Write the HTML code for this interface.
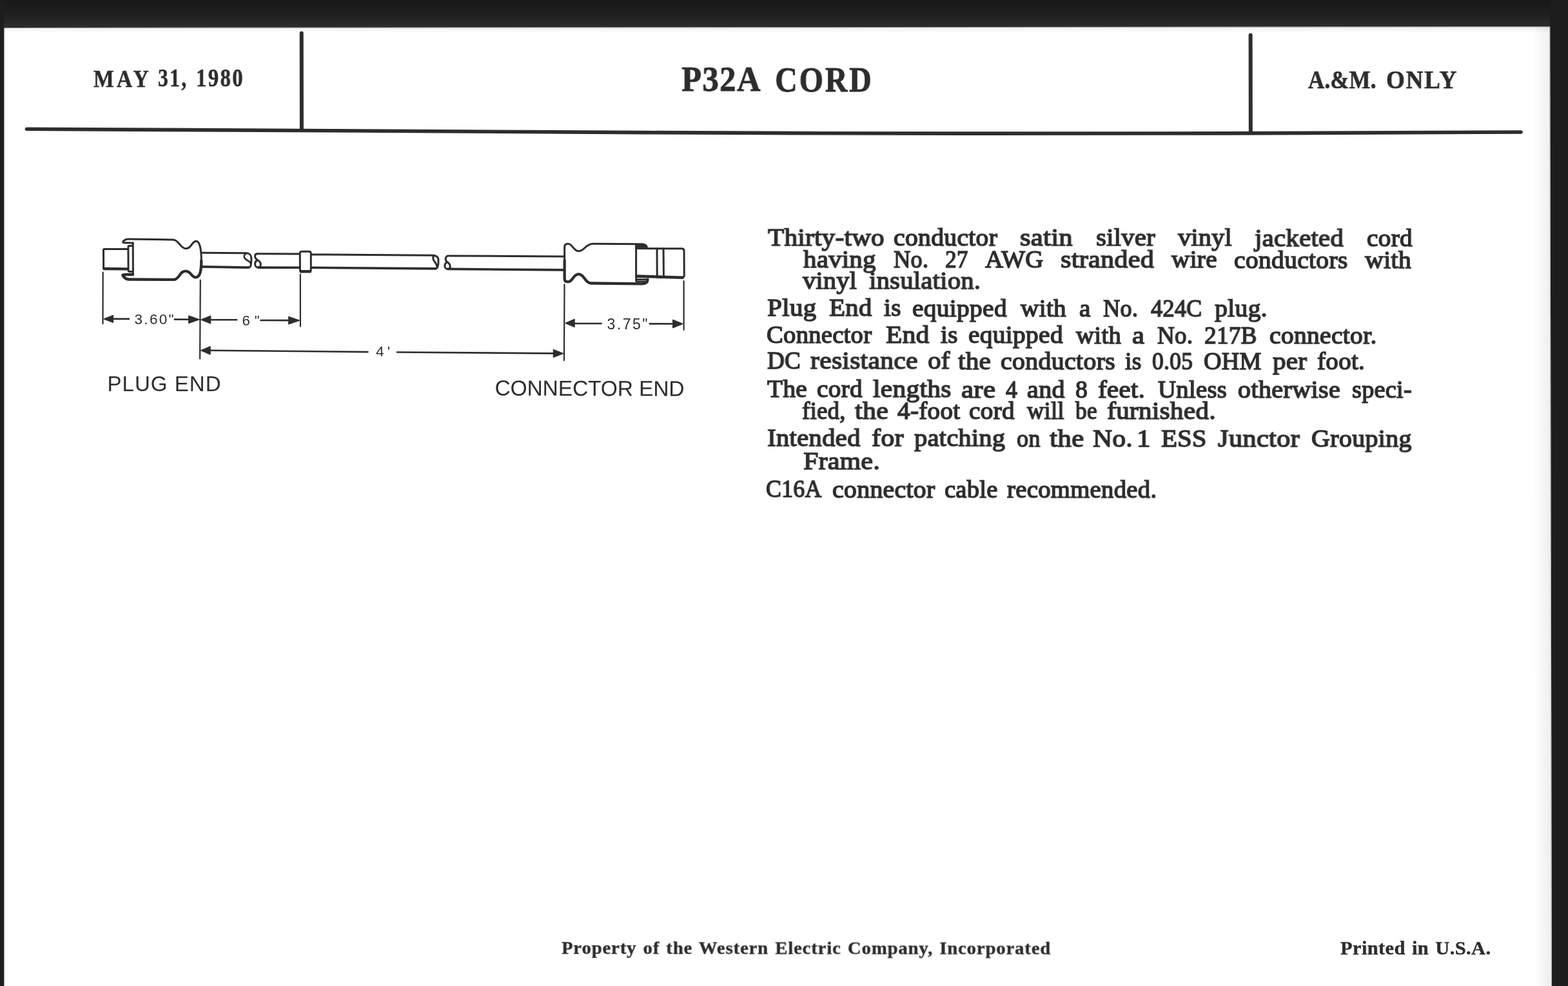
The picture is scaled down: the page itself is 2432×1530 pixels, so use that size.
<!DOCTYPE html>
<html><head><meta charset="utf-8"><title>P32A CORD</title>
<style>
html,body{margin:0;padding:0;background:#fff;}
body{width:2432px;height:1530px;position:relative;overflow:hidden;font-family:"Liberation Serif", serif;color:#2d2d2d;}
.t{position:absolute;white-space:pre;line-height:1em;transform-origin:0 0.8374em;font-family:"Liberation Serif", serif;color:#2d2d2d;
   -webkit-font-smoothing:antialiased;will-change:transform;}
svg{position:absolute;left:0;top:0;filter:blur(0.45px);}
.t span{filter:blur(0.35px);display:inline-block;}
</style></head>
<body>
<svg width="2432" height="1530" viewBox="0 0 2432 1530">
<defs><linearGradient id="gb" x1="0" y1="0" x2="0" y2="1"><stop offset="0" stop-color="#181818"/><stop offset=".55" stop-color="#202020"/><stop offset="1" stop-color="#2d2d2d"/></linearGradient></defs>
<path d="M0,0H2432V41.2L2404,41.2L1200,42.2L6,43L0,43Z" fill="url(#gb)"/>
<path d="M0,0H6.2V1530H0Z" fill="#1d1d1d"/>
<path d="M2404.2,0H2432V1530H2407Z" fill="#1d1d1d"/>
<defs><linearGradient id="gr" x1="0" y1="0" x2="1" y2="0"><stop offset="0" stop-color="#000" stop-opacity="0"/><stop offset="1" stop-color="#000" stop-opacity=".07"/></linearGradient><linearGradient id="gt" x1="0" y1="1" x2="0" y2="0"><stop offset="0" stop-color="#000" stop-opacity="0"/><stop offset="1" stop-color="#000" stop-opacity=".06"/></linearGradient></defs>
<path d="M2378,42H2405L2407.4,1530H2381Z" fill="url(#gr)"/>
<path d="M6,43L2404,41.4V52H6Z" fill="url(#gt)"/>
<path d="M6.2,43.5L2404,41.8" stroke="#8a8a8a" stroke-width="1.2" fill="none" opacity=".55"/>
<path d="M2403.6,42L2406.4,1530" stroke="#8a8a8a" stroke-width="1.2" fill="none" opacity=".5"/>
<path d="M6.8,43L6.8,1530" stroke="#8a8a8a" stroke-width="1.2" fill="none" opacity=".5"/>
<g fill="none" stroke="#2d2d2d" stroke-linecap="round">
<path d="M41.5,200.3C200,201.1 360,202 518,202.8C680,203.7 840,204.7 1000,205.6C1170,206.5 1330,207 1500,207.1C1640,207.2 1770,207.1 1900,206.9C2050,206.6 2200,205.9 2359,205" stroke-width="5.6"/>
<path d="M467.7,51.5L467.9,200" stroke-width="6"/>
<path d="M1939.6,54.5L1939.8,205" stroke-width="6"/>
</g>
<g fill="none" stroke="#2d2d2d" stroke-width="3.0" stroke-linecap="round" stroke-linejoin="round">
<path d="M198,386.5L161.8,386.6Q160.5,386.6 160.5,388L160.6,415.8Q160.6,417.2 162,417.2"/>
<path d="M161.5,417L198,417.4" stroke-width="4.4"/>
<path d="M205.6,381.6L200.6,381.6Q198.9,381.6 198.9,383.4L199.1,419.6Q199.1,421.4 200.8,421.4L205.6,421.4"/>
<path d="M206.2,376.8L206.4,426"/>
<path d="M206,376.9L193.2,376.7C189.6,376.6 190.2,374.6 192.4,373.2C194.4,371.8 196,371 198.6,371L268.6,371.9C277.5,372 279.5,385.8 288.4,385.8C297.6,385.8 297.2,374.2 304.2,374.2C310.4,374.2 312.3,389 312.3,404.6"/>
<path d="M312.3,404.6C312.3,420.5 310.4,430.4 303.4,430.4C297,430.4 296.4,420.6 287.6,420.6C279,420.6 277.6,433.9 269.6,433.9L199,433.5C195.4,433.5 193.4,431.4 191.6,429.2C189.6,426.8 189.8,426.2 193.4,426.2L206,426" stroke-width="4.3"/>
<path d="M313.5,392.3L382.1,392.7C386.6,392.8 389.8,396 389.8,400.4C389.8,406 389.6,410.4 388.6,412.8C388,414.6 386.8,415.1 385,415.1"/>
<path d="M313.5,413.9L385.4,415.1" stroke-width="3.6"/>
<path d="M382.6,392.9C379.4,394 378,397 378.9,399.4C380.2,402.6 384,404 386.2,405.6C387.6,406.4 388.4,407.4 388.8,408.6" stroke-width="2.7"/>
<path d="M464.6,394.1L399.6,393.8C397,393.8 395.5,395.4 395.5,397.4C395.5,400.2 398,402.6 400.6,404.3C403.2,406 404.5,408.4 404.3,410.8C404,413.6 402.6,415 400.4,415C397.6,415 395.5,412.6 395.5,409.8C395.5,407.2 397,404.9 398.7,403.5"/>
<path d="M400.4,415.1L464.6,415.2" stroke-width="3.6"/>
<path d="M468.2,390.2L479.2,390.3Q482.2,390.3 482.2,393.3L482.3,418.2Q482.3,421.2 479.3,421.2L468.4,421.2Q465.4,421.2 465.4,418.2L465.2,393.2Q465.2,390.2 468.2,390.2Z"/>
<path d="M466.6,421.3L481,421.3" stroke-width="4.4"/>
<path d="M482.6,394.9L672.4,396.2C677.2,396.9 680,399.6 680,403.3C680,408.2 679.6,413 678.3,415.1C677.6,416.6 676.6,416.9 675,416.9"/>
<path d="M482.6,415.3L675.4,416.9" stroke-width="3.6"/>
<path d="M673.2,396.5C671.6,398 671.5,400.6 672.2,402.7C673,405 675,407 676.4,409.6C677.4,411.6 677.9,413.4 677.9,415" stroke-width="3"/>
<path d="M874.2,397.9L695.2,397C692.6,397 691.1,399.6 691.1,402C691.1,404.6 693.4,406.6 695.6,408.1C697.4,409.5 698.4,412 698.2,414.4C698,416.5 696.2,417.4 694.2,417.4C691.6,417.4 689.8,415 689.8,412.4C689.8,410 691,408.3 692.6,407.2"/>
<path d="M694.2,417.4L874.2,418.9" stroke-width="3.6"/>
<path d="M875.6,404L875.6,383.6C875.6,379.8 877.8,378.2 881,378.2C888.4,378.2 889,389.7 897.6,389.7C906.4,389.7 908.4,378.2 919.6,378.2L995,378.7C1000.4,378.8 1003.6,381 1003.6,385.4"/>
<path d="M875.6,404L875.6,432.4C875.6,436 877.8,437.3 881,437.3C888.4,437.3 889,425.4 897.6,425.4C906.2,425.4 907.4,439.5 916.8,439.5L995.2,440.4C1001,440.4 1004.4,438 1004.5,433.6" stroke-width="4.3"/>
<path d="M986.6,381.4L986.6,435.6"/>
<path d="M987,381.9L1001.6,382.3" stroke-width="4.6"/>
<path d="M987,433.6L1004.2,433.6" stroke-width="2.6"/>
<path d="M987,436.9L1001.6,436.9" stroke-width="2.6"/>
<path d="M987.4,385.6L1057.2,385.7Q1061,385.7 1061,389.6L1061.2,427Q1061.2,430.4 1058,430.6"/>
<path d="M988.4,428.6L1058.6,430.7" stroke-width="4.6"/>
<path d="M1019,385.8L1019.2,429.4M1029,385.8L1029.4,429.8" stroke-width="3"/>
</g>
<g fill="none" stroke="#2d2d2d" stroke-width="2.2" stroke-linecap="round">
<path d="M159.7,422.5L159.5,502.3M310.8,434.5L310.1,556.6M465.8,425.6L465.9,506.4M875.5,441.4L874.9,559.2M1060.6,436L1060.6,511.8"/>
<path d="M174,494.9L200,494.9M270.8,495.6L294,495.7M325,496.2L367.2,496.3M404.4,497L449,497.1M889.5,502L932.6,502M1007.8,502.4L1045,502.5M324.5,543.8L570.4,546.1M616,546.5L859.6,548.4" stroke-width="2.6"/>
</g>
<path d="M160.6,494.9L175.6,489.1L175.6,500.7Z" fill="#2d2d2d" stroke="#2d2d2d" stroke-width="1" stroke-linejoin="round"/>
<path d="M309.6,495.8L292.6,489.8L292.6,501.8Z" fill="#2d2d2d" stroke="#2d2d2d" stroke-width="1" stroke-linejoin="round"/>
<path d="M311.4,496.1L326.8,489.9L326.8,502.3Z" fill="#2d2d2d" stroke="#2d2d2d" stroke-width="1" stroke-linejoin="round"/>
<path d="M464.9,497.2L447.6,491.2L447.6,503.2Z" fill="#2d2d2d" stroke="#2d2d2d" stroke-width="1" stroke-linejoin="round"/>
<path d="M876.6,501.4L891.2,495.1L891.2,507.7Z" fill="#2d2d2d" stroke="#2d2d2d" stroke-width="1" stroke-linejoin="round"/>
<path d="M1059.4,502.5L1043.4,496L1043.4,509Z" fill="#2d2d2d" stroke="#2d2d2d" stroke-width="1" stroke-linejoin="round"/>
<path d="M311.2,543.8L326.2,537.4L326.2,550.2Z" fill="#2d2d2d" stroke="#2d2d2d" stroke-width="1" stroke-linejoin="round"/>
<path d="M874,548.5L858.2,542.3L858.2,554.7Z" fill="#2d2d2d" stroke="#2d2d2d" stroke-width="1" stroke-linejoin="round"/>
<g fill="#2d2d2d" font-family="'Liberation Sans', sans-serif">
<text x="208.5" y="503.2" font-size="22.5" textLength="61" lengthAdjust="spacing">3.60"</text>
<text x="375.5" y="504.6" font-size="22" textLength="27" lengthAdjust="spacing">6"</text>
<text x="583" y="553.2" font-size="22.5" textLength="22" lengthAdjust="spacing">4'</text>
<text x="941.5" y="510.5" font-size="23" textLength="63" lengthAdjust="spacing">3.75"</text>
<text x="166.5" y="607" font-size="33" textLength="176" lengthAdjust="spacing">PLUG END</text>
<text x="767.5" y="613.6" font-size="33.5" textLength="294" lengthAdjust="spacing" transform="rotate(0.2 767.5 613.6)">CONNECTOR END</text>
</g>
</svg>
<div class="t" id="h1a" style="left:145.10px;top:102.56px;font-size:38.5px;font-weight:700;letter-spacing:5.000px;word-spacing:0.000px;-webkit-text-stroke:0.5px #2d2d2d;transform:scaleX(0.8718);"><span>MAY</span></div>
<div class="t" id="h1b" style="left:245.40px;top:100.90px;font-size:40.6px;font-weight:700;letter-spacing:3.000px;word-spacing:0.000px;-webkit-text-stroke:0.5px #2d2d2d;transform:scaleX(0.7791);"><span>31,</span></div>
<div class="t" id="h1c" style="left:303.60px;top:101.00px;font-size:40.6px;font-weight:700;letter-spacing:3.000px;word-spacing:0.000px;-webkit-text-stroke:0.5px #2d2d2d;transform:scaleX(0.8064);"><span>1980</span></div>
<div class="t" id="h2a" style="left:1056.80px;top:95.36px;font-size:55.7px;font-weight:700;letter-spacing:1.500px;word-spacing:0.000px;-webkit-text-stroke:0.8px #2d2d2d;transform:scaleX(0.9113);"><span>P32A</span></div>
<div class="t" id="h2b" style="left:1201.60px;top:95.56px;font-size:55.7px;font-weight:700;letter-spacing:3.200px;word-spacing:0.000px;-webkit-text-stroke:0.8px #2d2d2d;transform:scaleX(0.8631);"><span>CORD</span></div>
<div class="t" id="h3a" style="left:2029.10px;top:105.04px;font-size:39.6px;font-weight:700;letter-spacing:0.300px;word-spacing:0.000px;-webkit-text-stroke:0.7px #2d2d2d;transform:scaleX(0.879);"><span>A.&amp;M.</span></div>
<div class="t" id="h3b" style="left:2149.80px;top:105.24px;font-size:39.6px;font-weight:700;letter-spacing:2.000px;word-spacing:0.000px;-webkit-text-stroke:0.7px #2d2d2d;transform:scaleX(0.9356);"><span>ONLY</span></div>
<div class="t" id="f1" style="left:870.80px;top:1458.46px;font-size:26.8px;font-weight:700;letter-spacing:0.821px;word-spacing:2.000px;-webkit-text-stroke:0.4px #2d2d2d;transform:rotate(0.05deg) scaleX(1.07);"><span>Property of the Western Electric Company, Incorporated</span></div>
<div class="t" id="f2" style="left:2079.00px;top:1457.92px;font-size:28.4px;font-weight:700;letter-spacing:0.396px;word-spacing:2.000px;-webkit-text-stroke:0.4px #2d2d2d;transform:scaleX(1.07);"><span>Printed in U.S.A.</span></div>
<div class="t" id="w0_0" style="left:1191.40px;top:349.65px;font-size:37.8px;font-weight:400;letter-spacing:0.300px;word-spacing:0.000px;-webkit-text-stroke:1.45px #2d2d2d;transform:rotate(0.07deg) scaleX(1.0849);"><span>Thirty-two</span></div>
<div class="t" id="w0_1" style="left:1386.20px;top:349.90px;font-size:37.8px;font-weight:400;letter-spacing:0.300px;word-spacing:0.000px;-webkit-text-stroke:1.45px #2d2d2d;transform:rotate(0.07deg) scaleX(1.0473);"><span>conductor</span></div>
<div class="t" id="w0_2" style="left:1582.10px;top:350.15px;font-size:37.8px;font-weight:400;letter-spacing:0.300px;word-spacing:0.000px;-webkit-text-stroke:1.45px #2d2d2d;transform:rotate(0.07deg) scaleX(1.1241);"><span>satin</span></div>
<div class="t" id="w0_3" style="left:1700.30px;top:350.31px;font-size:37.8px;font-weight:400;letter-spacing:0.300px;word-spacing:0.000px;-webkit-text-stroke:1.45px #2d2d2d;transform:rotate(0.07deg) scaleX(1.0704);"><span>silver</span></div>
<div class="t" id="w0_4" style="left:1826.90px;top:350.47px;font-size:37.8px;font-weight:400;letter-spacing:0.300px;word-spacing:0.000px;-webkit-text-stroke:1.45px #2d2d2d;transform:rotate(0.07deg) scaleX(1.0608);"><span>vinyl</span></div>
<div class="t" id="w0_5" style="left:1945.70px;top:350.63px;font-size:37.8px;font-weight:400;letter-spacing:0.300px;word-spacing:0.000px;-webkit-text-stroke:1.45px #2d2d2d;transform:rotate(0.07deg) scaleX(1.0757);"><span>jacketed</span></div>
<div class="t" id="w0_6" style="left:2119.60px;top:350.85px;font-size:37.8px;font-weight:400;letter-spacing:0.300px;word-spacing:0.000px;-webkit-text-stroke:1.45px #2d2d2d;transform:rotate(0.07deg) scaleX(1.0371);"><span>cord</span></div>
<div class="t" id="w1_0" style="left:1246.40px;top:383.75px;font-size:37.8px;font-weight:400;letter-spacing:0.300px;word-spacing:0.000px;-webkit-text-stroke:1.45px #2d2d2d;transform:rotate(0.07deg) scaleX(1.0769);"><span>having</span></div>
<div class="t" id="w1_1" style="left:1386.20px;top:383.93px;font-size:37.8px;font-weight:400;letter-spacing:0.300px;word-spacing:0.000px;-webkit-text-stroke:1.45px #2d2d2d;transform:rotate(0.07deg) scaleX(0.9601);"><span>No.</span></div>
<div class="t" id="w1_2" style="left:1465.50px;top:384.03px;font-size:37.8px;font-weight:400;letter-spacing:0.300px;word-spacing:0.000px;-webkit-text-stroke:1.45px #2d2d2d;transform:rotate(0.07deg) scaleX(0.9264);"><span>27</span></div>
<div class="t" id="w1_3" style="left:1528.20px;top:384.11px;font-size:37.8px;font-weight:400;letter-spacing:0.300px;word-spacing:0.000px;-webkit-text-stroke:1.45px #2d2d2d;transform:rotate(0.07deg) scaleX(1.028);"><span>AWG</span></div>
<div class="t" id="w1_4" style="left:1644.90px;top:384.26px;font-size:37.8px;font-weight:400;letter-spacing:0.300px;word-spacing:0.000px;-webkit-text-stroke:1.45px #2d2d2d;transform:rotate(0.07deg) scaleX(1.1118);"><span>stranded</span></div>
<div class="t" id="w1_5" style="left:1817.00px;top:384.49px;font-size:37.8px;font-weight:400;letter-spacing:0.300px;word-spacing:0.000px;-webkit-text-stroke:1.45px #2d2d2d;transform:rotate(0.07deg) scaleX(1.0356);"><span>wire</span></div>
<div class="t" id="w1_6" style="left:1913.80px;top:384.61px;font-size:37.8px;font-weight:400;letter-spacing:0.300px;word-spacing:0.000px;-webkit-text-stroke:1.45px #2d2d2d;transform:rotate(0.07deg) scaleX(1.0454);"><span>conductors</span></div>
<div class="t" id="w1_7" style="left:2117.40px;top:384.88px;font-size:37.8px;font-weight:400;letter-spacing:0.300px;word-spacing:0.000px;-webkit-text-stroke:1.45px #2d2d2d;transform:rotate(0.07deg) scaleX(1.0528);"><span>with</span></div>
<div class="t" id="w2_0" style="left:1245.30px;top:417.25px;font-size:37.8px;font-weight:400;letter-spacing:0.300px;word-spacing:0.000px;-webkit-text-stroke:1.45px #2d2d2d;transform:rotate(0.07deg) scaleX(1.0621);"><span>vinyl</span></div>
<div class="t" id="w2_1" style="left:1347.70px;top:417.38px;font-size:37.8px;font-weight:400;letter-spacing:0.300px;word-spacing:0.000px;-webkit-text-stroke:1.45px #2d2d2d;transform:rotate(0.07deg) scaleX(1.0703);"><span>insulation.</span></div>
<div class="t" id="w3_0" style="left:1190.30px;top:459.25px;font-size:37.8px;font-weight:400;letter-spacing:0.300px;word-spacing:0.000px;-webkit-text-stroke:1.45px #2d2d2d;transform:rotate(0.07deg) scaleX(1.0836);"><span>Plug</span></div>
<div class="t" id="w3_1" style="left:1286.10px;top:459.37px;font-size:37.8px;font-weight:400;letter-spacing:0.300px;word-spacing:0.000px;-webkit-text-stroke:1.45px #2d2d2d;transform:rotate(0.07deg) scaleX(1.0749);"><span>End</span></div>
<div class="t" id="w3_2" style="left:1370.80px;top:459.48px;font-size:37.8px;font-weight:400;letter-spacing:0.300px;word-spacing:0.000px;-webkit-text-stroke:1.45px #2d2d2d;transform:rotate(0.07deg) scaleX(1.0387);"><span>is</span></div>
<div class="t" id="w3_3" style="left:1414.80px;top:459.54px;font-size:37.8px;font-weight:400;letter-spacing:0.300px;word-spacing:0.000px;-webkit-text-stroke:1.45px #2d2d2d;transform:rotate(0.07deg) scaleX(1.0416);"><span>equipped</span></div>
<div class="t" id="w3_4" style="left:1583.20px;top:459.76px;font-size:37.8px;font-weight:400;letter-spacing:0.300px;word-spacing:0.000px;-webkit-text-stroke:1.45px #2d2d2d;transform:rotate(0.07deg) scaleX(1.0366);"><span>with</span></div>
<div class="t" id="w3_5" style="left:1673.50px;top:459.87px;font-size:37.8px;font-weight:400;letter-spacing:0.300px;word-spacing:0.000px;-webkit-text-stroke:1.45px #2d2d2d;transform:rotate(0.07deg) scaleX(1.0371);"><span>a</span></div>
<div class="t" id="w3_6" style="left:1711.30px;top:459.92px;font-size:37.8px;font-weight:400;letter-spacing:0.300px;word-spacing:0.000px;-webkit-text-stroke:1.45px #2d2d2d;transform:rotate(0.07deg) scaleX(0.9601);"><span>No.</span></div>
<div class="t" id="w3_7" style="left:1785.10px;top:460.02px;font-size:37.8px;font-weight:400;letter-spacing:0.300px;word-spacing:0.000px;-webkit-text-stroke:1.45px #2d2d2d;transform:rotate(0.07deg) scaleX(0.9576);"><span>424C</span></div>
<div class="t" id="w3_8" style="left:1884.10px;top:460.15px;font-size:37.8px;font-weight:400;letter-spacing:0.300px;word-spacing:0.000px;-webkit-text-stroke:1.45px #2d2d2d;transform:rotate(0.07deg) scaleX(1.0468);"><span>plug.</span></div>
<div class="t" id="w4_0" style="left:1189.20px;top:501.05px;font-size:37.8px;font-weight:400;letter-spacing:0.300px;word-spacing:0.000px;-webkit-text-stroke:1.45px #2d2d2d;transform:rotate(0.07deg) scaleX(1.0197);"><span>Connector</span></div>
<div class="t" id="w4_1" style="left:1374.10px;top:501.29px;font-size:37.8px;font-weight:400;letter-spacing:0.300px;word-spacing:0.000px;-webkit-text-stroke:1.45px #2d2d2d;transform:rotate(0.07deg) scaleX(1.0927);"><span>End</span></div>
<div class="t" id="w4_2" style="left:1458.90px;top:501.40px;font-size:37.8px;font-weight:400;letter-spacing:0.300px;word-spacing:0.000px;-webkit-text-stroke:1.45px #2d2d2d;transform:rotate(0.07deg) scaleX(1.0387);"><span>is</span></div>
<div class="t" id="w4_3" style="left:1501.80px;top:501.45px;font-size:37.8px;font-weight:400;letter-spacing:0.300px;word-spacing:0.000px;-webkit-text-stroke:1.45px #2d2d2d;transform:rotate(0.07deg) scaleX(1.0416);"><span>equipped</span></div>
<div class="t" id="w4_4" style="left:1669.10px;top:501.67px;font-size:37.8px;font-weight:400;letter-spacing:0.300px;word-spacing:0.000px;-webkit-text-stroke:1.45px #2d2d2d;transform:rotate(0.07deg) scaleX(1.0249);"><span>with</span></div>
<div class="t" id="w4_5" style="left:1756.40px;top:501.78px;font-size:37.8px;font-weight:400;letter-spacing:0.300px;word-spacing:0.000px;-webkit-text-stroke:1.45px #2d2d2d;transform:rotate(0.07deg) scaleX(1.1265);"><span>a</span></div>
<div class="t" id="w4_6" style="left:1795.00px;top:501.83px;font-size:37.8px;font-weight:400;letter-spacing:0.300px;word-spacing:0.000px;-webkit-text-stroke:1.45px #2d2d2d;transform:rotate(0.07deg) scaleX(0.9796);"><span>No.</span></div>
<div class="t" id="w4_7" style="left:1867.60px;top:501.93px;font-size:37.8px;font-weight:400;letter-spacing:0.300px;word-spacing:0.000px;-webkit-text-stroke:1.45px #2d2d2d;transform:rotate(0.07deg) scaleX(0.9842);"><span>217B</span></div>
<div class="t" id="w4_8" style="left:1968.90px;top:502.06px;font-size:37.8px;font-weight:400;letter-spacing:0.300px;word-spacing:0.000px;-webkit-text-stroke:1.45px #2d2d2d;transform:rotate(0.07deg) scaleX(1.0448);"><span>connector.</span></div>
<div class="t" id="w5_0" style="left:1190.30px;top:541.15px;font-size:37.8px;font-weight:400;letter-spacing:0.300px;word-spacing:0.000px;-webkit-text-stroke:1.45px #2d2d2d;transform:rotate(0.07deg) scaleX(0.9809);"><span>DC</span></div>
<div class="t" id="w5_1" style="left:1257.40px;top:541.23px;font-size:37.8px;font-weight:400;letter-spacing:0.300px;word-spacing:0.000px;-webkit-text-stroke:1.45px #2d2d2d;transform:rotate(0.07deg) scaleX(1.0961);"><span>resistance</span></div>
<div class="t" id="w5_2" style="left:1439.00px;top:541.47px;font-size:37.8px;font-weight:400;letter-spacing:0.300px;word-spacing:0.000px;-webkit-text-stroke:1.45px #2d2d2d;transform:rotate(0.07deg) scaleX(1.0788);"><span>of</span></div>
<div class="t" id="w5_3" style="left:1486.40px;top:541.53px;font-size:37.8px;font-weight:400;letter-spacing:0.300px;word-spacing:0.000px;-webkit-text-stroke:1.45px #2d2d2d;transform:rotate(0.07deg) scaleX(1.0838);"><span>the</span></div>
<div class="t" id="w5_4" style="left:1552.40px;top:541.62px;font-size:37.8px;font-weight:400;letter-spacing:0.300px;word-spacing:0.000px;-webkit-text-stroke:1.45px #2d2d2d;transform:rotate(0.07deg) scaleX(1.0543);"><span>conductors</span></div>
<div class="t" id="w5_5" style="left:1745.40px;top:541.87px;font-size:37.8px;font-weight:400;letter-spacing:0.300px;word-spacing:0.000px;-webkit-text-stroke:1.45px #2d2d2d;transform:rotate(0.07deg) scaleX(0.9956);"><span>is</span></div>
<div class="t" id="w5_6" style="left:1787.30px;top:541.92px;font-size:37.8px;font-weight:400;letter-spacing:0.300px;word-spacing:0.000px;-webkit-text-stroke:1.45px #2d2d2d;transform:rotate(0.07deg) scaleX(0.9365);"><span>0.05</span></div>
<div class="t" id="w5_7" style="left:1866.50px;top:542.03px;font-size:37.8px;font-weight:400;letter-spacing:0.300px;word-spacing:0.000px;-webkit-text-stroke:1.45px #2d2d2d;transform:rotate(0.07deg) scaleX(1.0055);"><span>OHM</span></div>
<div class="t" id="w5_8" style="left:1974.40px;top:542.17px;font-size:37.8px;font-weight:400;letter-spacing:0.300px;word-spacing:0.000px;-webkit-text-stroke:1.45px #2d2d2d;transform:rotate(0.07deg) scaleX(1.0824);"><span>per</span></div>
<div class="t" id="w5_9" style="left:2042.60px;top:542.25px;font-size:37.8px;font-weight:400;letter-spacing:0.300px;word-spacing:0.000px;-webkit-text-stroke:1.45px #2d2d2d;transform:rotate(0.07deg) scaleX(1.0315);"><span>foot.</span></div>
<div class="t" id="w6_0" style="left:1190.30px;top:585.15px;font-size:37.8px;font-weight:400;letter-spacing:0.300px;word-spacing:0.000px;-webkit-text-stroke:1.45px #2d2d2d;transform:rotate(0.07deg) scaleX(1.0392);"><span>The</span></div>
<div class="t" id="w6_1" style="left:1267.40px;top:585.25px;font-size:37.8px;font-weight:400;letter-spacing:0.300px;word-spacing:0.000px;-webkit-text-stroke:1.45px #2d2d2d;transform:rotate(0.07deg) scaleX(1.0356);"><span>cord</span></div>
<div class="t" id="w6_2" style="left:1354.30px;top:585.36px;font-size:37.8px;font-weight:400;letter-spacing:0.300px;word-spacing:0.000px;-webkit-text-stroke:1.45px #2d2d2d;transform:rotate(0.07deg) scaleX(1.0919);"><span>lengths</span></div>
<div class="t" id="w6_3" style="left:1490.80px;top:585.54px;font-size:37.8px;font-weight:400;letter-spacing:0.300px;word-spacing:0.000px;-webkit-text-stroke:1.45px #2d2d2d;transform:rotate(0.07deg) scaleX(1.1316);"><span>are</span></div>
<div class="t" id="w6_4" style="left:1560.10px;top:585.63px;font-size:37.8px;font-weight:400;letter-spacing:0.300px;word-spacing:0.000px;-webkit-text-stroke:1.45px #2d2d2d;transform:rotate(0.07deg) scaleX(0.9364);"><span>4</span></div>
<div class="t" id="w6_5" style="left:1593.10px;top:585.67px;font-size:37.8px;font-weight:400;letter-spacing:0.300px;word-spacing:0.000px;-webkit-text-stroke:1.45px #2d2d2d;transform:rotate(0.07deg) scaleX(1.0601);"><span>and</span></div>
<div class="t" id="w6_6" style="left:1668.00px;top:585.77px;font-size:37.8px;font-weight:400;letter-spacing:0.300px;word-spacing:0.000px;-webkit-text-stroke:1.45px #2d2d2d;transform:rotate(0.07deg) scaleX(0.9945);"><span>8</span></div>
<div class="t" id="w6_7" style="left:1702.50px;top:585.81px;font-size:37.8px;font-weight:400;letter-spacing:0.300px;word-spacing:0.000px;-webkit-text-stroke:1.45px #2d2d2d;transform:rotate(0.07deg) scaleX(1.0818);"><span>feet.</span></div>
<div class="t" id="w6_8" style="left:1796.10px;top:585.93px;font-size:37.8px;font-weight:400;letter-spacing:0.300px;word-spacing:0.000px;-webkit-text-stroke:1.45px #2d2d2d;transform:rotate(0.07deg) scaleX(1.023);"><span>Unless</span></div>
<div class="t" id="w6_9" style="left:1920.40px;top:586.10px;font-size:37.8px;font-weight:400;letter-spacing:0.300px;word-spacing:0.000px;-webkit-text-stroke:1.45px #2d2d2d;transform:rotate(0.07deg) scaleX(1.0619);"><span>otherwise</span></div>
<div class="t" id="w6_10" style="left:2096.50px;top:586.32px;font-size:37.8px;font-weight:400;letter-spacing:0.300px;word-spacing:0.000px;-webkit-text-stroke:1.45px #2d2d2d;transform:rotate(0.07deg) scaleX(1.0091);"><span>speci-</span></div>
<div class="t" id="w7_0" style="left:1244.20px;top:618.85px;font-size:37.8px;font-weight:400;letter-spacing:0.300px;word-spacing:0.000px;-webkit-text-stroke:1.45px #2d2d2d;transform:rotate(0.07deg) scaleX(0.9695);"><span>fied,</span></div>
<div class="t" id="w7_1" style="left:1325.70px;top:618.95px;font-size:37.8px;font-weight:400;letter-spacing:0.300px;word-spacing:0.000px;-webkit-text-stroke:1.45px #2d2d2d;transform:rotate(0.07deg) scaleX(1.1074);"><span>the</span></div>
<div class="t" id="w7_2" style="left:1391.70px;top:619.04px;font-size:37.8px;font-weight:400;letter-spacing:0.300px;word-spacing:0.000px;-webkit-text-stroke:1.45px #2d2d2d;transform:rotate(0.07deg) scaleX(1.0333);"><span>4-foot</span></div>
<div class="t" id="w7_3" style="left:1502.90px;top:619.18px;font-size:37.8px;font-weight:400;letter-spacing:0.300px;word-spacing:0.000px;-webkit-text-stroke:1.45px #2d2d2d;transform:rotate(0.07deg) scaleX(1.0356);"><span>cord</span></div>
<div class="t" id="w7_4" style="left:1593.10px;top:619.30px;font-size:37.8px;font-weight:400;letter-spacing:0.300px;word-spacing:0.000px;-webkit-text-stroke:1.45px #2d2d2d;transform:rotate(0.07deg) scaleX(0.9615);"><span>will</span></div>
<div class="t" id="w7_5" style="left:1668.00px;top:619.40px;font-size:37.8px;font-weight:400;letter-spacing:0.300px;word-spacing:0.000px;-webkit-text-stroke:1.45px #2d2d2d;transform:rotate(0.07deg) scaleX(0.931);"><span>be</span></div>
<div class="t" id="w7_6" style="left:1716.80px;top:619.46px;font-size:37.8px;font-weight:400;letter-spacing:0.300px;word-spacing:0.000px;-webkit-text-stroke:1.45px #2d2d2d;transform:rotate(0.07deg) scaleX(1.0878);"><span>furnished.</span></div>
<div class="t" id="w8_0" style="left:1190.30px;top:661.15px;font-size:37.8px;font-weight:400;letter-spacing:0.300px;word-spacing:0.000px;-webkit-text-stroke:1.45px #2d2d2d;transform:rotate(0.07deg) scaleX(1.0741);"><span>Intended</span></div>
<div class="t" id="w8_1" style="left:1352.10px;top:661.36px;font-size:37.8px;font-weight:400;letter-spacing:0.300px;word-spacing:0.000px;-webkit-text-stroke:1.45px #2d2d2d;transform:rotate(0.07deg) scaleX(1.11);"><span>for</span></div>
<div class="t" id="w8_2" style="left:1418.10px;top:661.44px;font-size:37.8px;font-weight:400;letter-spacing:0.300px;word-spacing:0.000px;-webkit-text-stroke:1.45px #2d2d2d;transform:rotate(0.07deg) scaleX(1.0661);"><span>patching</span></div>
<div class="t" id="w8_3" style="left:1576.60px;top:661.65px;font-size:37.8px;font-weight:400;letter-spacing:0.300px;word-spacing:0.000px;-webkit-text-stroke:1.45px #2d2d2d;transform:rotate(0.07deg) scaleX(0.9552);"><span>on</span></div>
<div class="t" id="w8_4" style="left:1628.30px;top:661.72px;font-size:37.8px;font-weight:400;letter-spacing:0.300px;word-spacing:0.000px;-webkit-text-stroke:1.45px #2d2d2d;transform:rotate(0.07deg) scaleX(1.133);"><span>the</span></div>
<div class="t" id="w8_5" style="left:1694.80px;top:661.80px;font-size:37.8px;font-weight:400;letter-spacing:0.300px;word-spacing:0.000px;-webkit-text-stroke:1.45px #2d2d2d;transform:rotate(0.07deg) scaleX(1.0969);"><span>No.</span></div>
<div class="t" id="w8_6" style="left:1763.20px;top:661.89px;font-size:37.8px;font-weight:400;letter-spacing:0.300px;word-spacing:0.000px;-webkit-text-stroke:1.45px #2d2d2d;transform:rotate(0.07deg) scaleX(1.1321);"><span>1</span></div>
<div class="t" id="w8_7" style="left:1800.50px;top:661.94px;font-size:37.8px;font-weight:400;letter-spacing:0.300px;word-spacing:0.000px;-webkit-text-stroke:1.45px #2d2d2d;transform:rotate(0.07deg) scaleX(1.0725);"><span>ESS</span></div>
<div class="t" id="w8_8" style="left:1888.50px;top:662.05px;font-size:37.8px;font-weight:400;letter-spacing:0.300px;word-spacing:0.000px;-webkit-text-stroke:1.45px #2d2d2d;transform:rotate(0.07deg) scaleX(1.1205);"><span>Junctor</span></div>
<div class="t" id="w8_9" style="left:2033.80px;top:662.24px;font-size:37.8px;font-weight:400;letter-spacing:0.300px;word-spacing:0.000px;-webkit-text-stroke:1.45px #2d2d2d;transform:rotate(0.07deg) scaleX(1.0566);"><span>Grouping</span></div>
<div class="t" id="w9_0" style="left:1246.30px;top:696.95px;font-size:37.8px;font-weight:400;letter-spacing:0.300px;word-spacing:0.000px;-webkit-text-stroke:1.45px #2d2d2d;transform:rotate(0.07deg) scaleX(1.1031);"><span>Frame.</span></div>
<div class="t" id="w10_0" style="left:1188.30px;top:740.45px;font-size:37.8px;font-weight:400;letter-spacing:0.300px;word-spacing:0.000px;-webkit-text-stroke:1.45px #2d2d2d;transform:rotate(0.07deg) scaleX(0.945);"><span>C16A</span></div>
<div class="t" id="w10_1" style="left:1290.90px;top:740.58px;font-size:37.8px;font-weight:400;letter-spacing:0.300px;word-spacing:0.000px;-webkit-text-stroke:1.45px #2d2d2d;transform:rotate(0.07deg) scaleX(1.0507);"><span>connector</span></div>
<div class="t" id="w10_2" style="left:1464.90px;top:740.81px;font-size:37.8px;font-weight:400;letter-spacing:0.300px;word-spacing:0.000px;-webkit-text-stroke:1.45px #2d2d2d;transform:rotate(0.07deg) scaleX(1.0156);"><span>cable</span></div>
<div class="t" id="w10_3" style="left:1562.10px;top:740.93px;font-size:37.8px;font-weight:400;letter-spacing:0.300px;word-spacing:0.000px;-webkit-text-stroke:1.45px #2d2d2d;transform:rotate(0.07deg) scaleX(1.0227);"><span>recommended.</span></div>
</body></html>
